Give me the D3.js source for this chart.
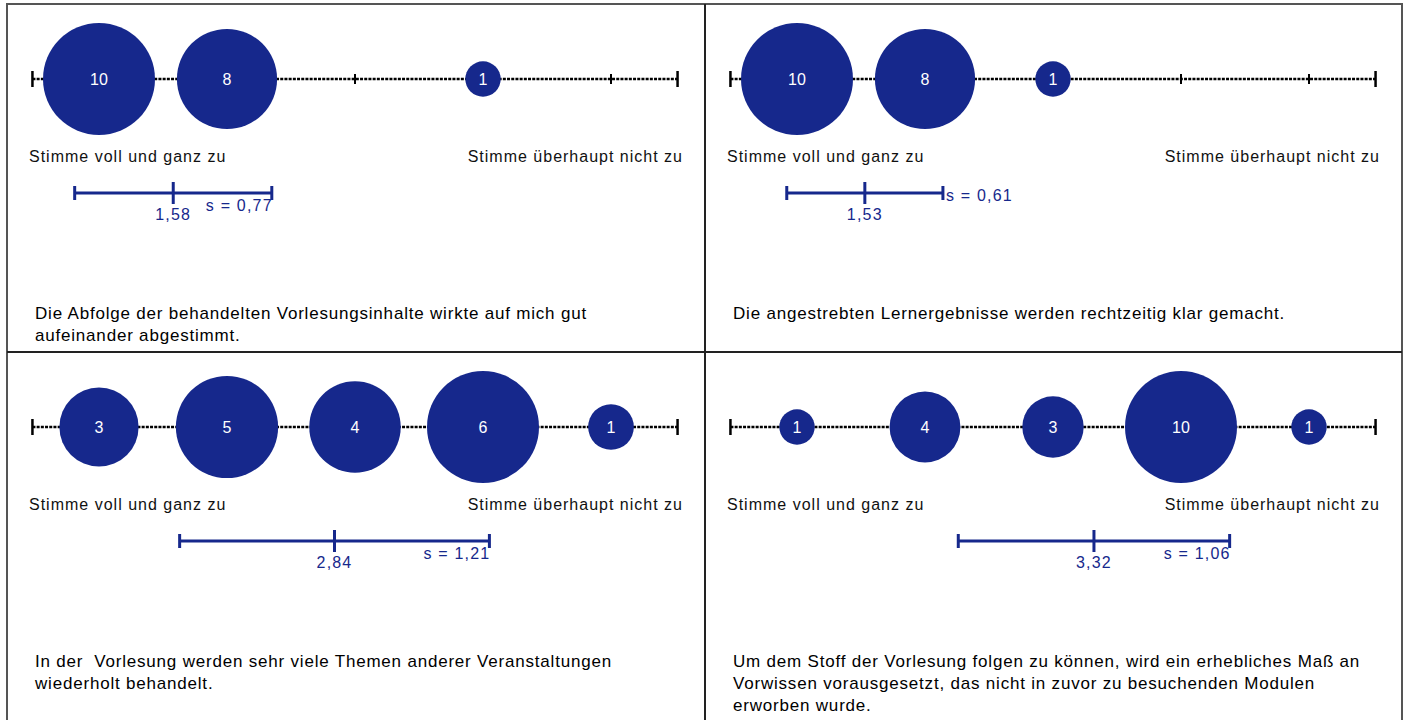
<!DOCTYPE html>
<html>
<head>
<meta charset="utf-8">
<script src="https://cdn.jsdelivr.net/npm/d3@7"></script>
<style>
  body { margin: 0; background: #fff; }
  svg { display: block; font-family: "Liberation Sans", Arial, sans-serif; }
</style>
</head>
<body>
<div id="chart"></div>
<script>
// Answer scale: 1 = Stimme voll und ganz zu ... 5 = Stimme überhaupt nicht zu
const categories = [1, 2, 3, 4, 5];
const leftLabel = "Stimme voll und ganz zu";
const rightLabel = "Stimme überhaupt nicht zu";

// counts per answer category, one row per question
const counts = [
  [10, 8, 0, 1, 0],
  [10, 8, 1, 0, 0],
  [3, 5, 4, 6, 1],
  [1, 4, 3, 10, 1]
];
const means = [1.58, 1.53, 2.84, 3.32];
const sds = [0.77, 0.61, 1.21, 1.06];

const questions = [
  ["Die Abfolge der behandelten Vorlesungsinhalte wirkte auf mich gut", "aufeinander abgestimmt."],
  ["Die angestrebten Lernergebnisse werden rechtzeitig klar gemacht."],
  ["In der  Vorlesung werden sehr viele Themen anderer Veranstaltungen", "wiederholt behandelt."],
  ["Um dem Stoff der Vorlesung folgen zu können, wird ein erhebliches Maß an", "Vorwissen vorausgesetzt, das nicht in zuvor zu besuchenden Modulen", "erworben wurde."]
];

const W = 1406, H = 720;
const navy = "#16288c";
const fmt = v => d3.format(".2f")(v).replace(".", ",");

const svg = d3.select("#chart").append("svg")
  .attr("width", W)
  .attr("height", H);

// grid of panels
const colX = [7, 705, 1402];
const rowY = [4, 352, 740];

questions.forEach((q, i) => {
  const col = i % 2, row = Math.floor(i / 2);
  const x0 = colX[col], x1 = colX[col + 1], y0 = rowY[row];
  const g = svg.append("g").attr("transform", `translate(${x0},${y0})`);

  const x = d3.scaleLinear().domain([1, 5]).range([92, 604]);
  const r = d3.scaleSqrt().domain([0, d3.max(counts[i])]).range([0, 56]);
  const axisY = 75;

  // dotted axis line
  g.append("line")
    .attr("x1", x(0.48)).attr("x2", x(5.52))
    .attr("y1", axisY).attr("y2", axisY)
    .attr("stroke", "#000")
    .attr("stroke-width", 2.5)
    .attr("stroke-dasharray", "3,1.2");

  // end ticks
  g.selectAll("line.end")
    .data([0.48, 5.52])
    .join("line")
    .attr("class", "end")
    .attr("x1", d => x(d)).attr("x2", d => x(d))
    .attr("y1", axisY - 8).attr("y2", axisY + 8)
    .attr("stroke", "#000")
    .attr("stroke-width", 2.5);

  // category ticks
  g.selectAll("line.cat")
    .data(categories)
    .join("line")
    .attr("class", "cat")
    .attr("x1", d => x(d)).attr("x2", d => x(d))
    .attr("y1", axisY - 5).attr("y2", axisY + 5)
    .attr("stroke", "#000")
    .attr("stroke-width", 2);

  const data = categories.map((c, j) => ({ c: c, n: counts[i][j] })).filter(d => d.n > 0);

  g.selectAll("circle")
    .data(data)
    .join("circle")
    .attr("cx", d => x(d.c))
    .attr("cy", axisY)
    .attr("r", d => r(d.n))
    .attr("fill", navy);

  g.selectAll("text.count")
    .data(data)
    .join("text")
    .attr("class", "count")
    .attr("x", d => x(d.c))
    .attr("y", axisY + 6)
    .attr("text-anchor", "middle")
    .attr("fill", "#fff")
    .style("font-size", "16px")
    .text(d => d.n);

  // scale end labels
  g.append("text")
    .attr("x", 22).attr("y", 158)
    .style("font-size", "16px")
    .style("letter-spacing", "1px")
    .attr("fill", "#111")
    .text(leftLabel);
  g.append("text")
    .attr("x", (x1 - x0) - 22).attr("y", 158)
    .attr("text-anchor", "end")
    .style("font-size", "16px")
    .style("letter-spacing", "1px")
    .attr("fill", "#111")
    .text(rightLabel);

  // mean +- s bar
  const m = means[i], s = sds[i];
  const barY = 189;
  g.append("line")
    .attr("x1", x(m - s)).attr("x2", x(m + s))
    .attr("y1", barY).attr("y2", barY)
    .attr("stroke", navy).attr("stroke-width", 3);
  g.selectAll("line.sd")
    .data([m - s, m + s])
    .join("line")
    .attr("class", "sd")
    .attr("x1", d => x(d)).attr("x2", d => x(d))
    .attr("y1", barY - 7).attr("y2", barY + 7)
    .attr("stroke", navy).attr("stroke-width", 3);
  g.append("line")
    .attr("x1", x(m)).attr("x2", x(m))
    .attr("y1", barY - 11).attr("y2", barY + 11)
    .attr("stroke", navy).attr("stroke-width", 3);

  g.append("text")
    .attr("x", x(m)).attr("y", barY + 27)
    .attr("text-anchor", "middle")
    .attr("fill", navy)
    .style("font-size", "16px")
    .style("letter-spacing", "1.2px")
    .text(fmt(m));

  const sText = g.append("text")
    .attr("fill", navy)
    .style("font-size", "16px")
    .style("letter-spacing", "1.2px")
    .text("s = " + fmt(s));
  const tw = sText.node().getComputedTextLength();
  if (tw + 20 >= x(m + s) - x(m)) {
    sText.attr("x", x(m + s) + 3).attr("y", barY + 8);
  } else {
    sText.attr("x", x(m + s) + 1).attr("y", barY + 18).attr("text-anchor", "end");
  }

  // question text
  g.append("text")
    .attr("x", 28).attr("y", 315)
    .attr("fill", "#000")
    .style("font-size", "17px")
    .style("letter-spacing", "0.8px")
    .style("white-space", "pre")
    .selectAll("tspan")
    .data(q)
    .join("tspan")
    .attr("x", 28)
    .attr("dy", (d, k) => k === 0 ? 0 : 22)
    .text(d => d);
});

// panel borders
svg.append("rect")
  .attr("x", colX[0]).attr("y", rowY[0])
  .attr("width", colX[2] - colX[0]).attr("height", 800)
  .attr("fill", "none")
  .attr("stroke", "#555").attr("stroke-width", 2);
svg.append("line")
  .attr("x1", colX[1]).attr("x2", colX[1])
  .attr("y1", rowY[0]).attr("y2", H)
  .attr("stroke", "#222").attr("stroke-width", 2);
svg.append("line")
  .attr("x1", colX[0]).attr("x2", colX[2])
  .attr("y1", rowY[1]).attr("y2", rowY[1])
  .attr("stroke", "#222").attr("stroke-width", 2);
</script>
</body>
</html>
